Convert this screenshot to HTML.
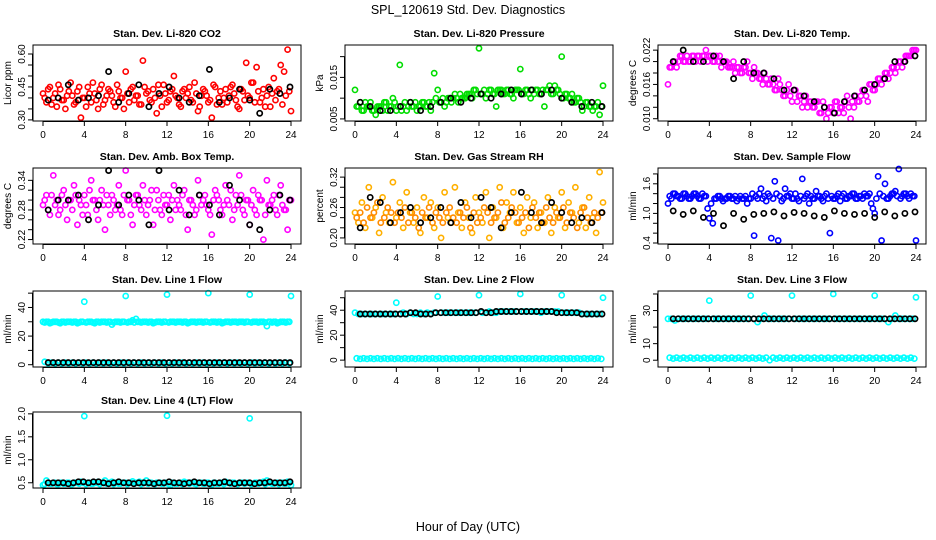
<!DOCTYPE html>
<html><head><meta charset="utf-8"><style>
html,body{margin:0;padding:0;background:#fff;}
svg{display:block;font-family:"Liberation Sans",sans-serif;}
</style></head><body>
<svg id="chart" width="936" height="540" viewBox="0 0 936 540" xmlns="http://www.w3.org/2000/svg">
<text x="468" y="14" text-anchor="middle" font-size="12.5">SPL_120619  Std. Dev. Diagnostics</text>
<text x="468" y="531" text-anchor="middle" font-size="12.5">Hour of Day (UTC)</text>
</svg>
<script>
// ---- data ----
const co2Red=[0.42,0.38,0.45,0.40,0.36,0.44,0.39,0.41,0.47,0.37,0.43,0.31,0.40,0.45,0.38,0.42,0.35,0.46,0.39,0.44,0.41,0.36,0.43,0.40,0.52,0.38,0.45,0.41,0.37,0.57,0.42,0.39,0.44,0.33,0.41,0.46,0.38,0.43,0.50,0.40,0.36,0.44,0.42,0.39,0.47,0.34,0.41,0.43,0.38,0.31,0.45,0.40,0.37,0.44,0.41,0.46,0.39,0.35,0.43,0.56,0.40,0.47,0.54,0.38,0.44,0.41,0.36,0.49,0.43,0.55,0.52,0.62,0.34];
const co2RedB=[0.40,0.44,0.37,0.42,0.46,0.39,0.35,0.43,0.41,0.38,0.45,0.40,0.36,0.42,0.47,0.39,0.44,0.37,0.41,0.43,0.38,0.46,0.40,0.35,0.42,0.44,0.39,0.41,0.37,0.45,0.43,0.38,0.40,0.46,0.36,0.42,0.39,0.44,0.41,0.37,0.43,0.40,0.45,0.38,0.42,0.36,0.44,0.41,0.39,0.46,0.37,0.43,0.40,0.38,0.45,0.42,0.36,0.44,0.39,0.41,0.47,0.38,0.43,0.40,0.36,0.45,0.42,0.39,0.44,0.37,0.41,0.43];
const co2Black=[0.39,0.40,0.46,0.39,0.40,0.41,0.52,0.38,0.42,0.46,0.36,0.42,0.45,0.40,0.38,0.41,0.53,0.38,0.40,0.44,0.39,0.33,0.44,0.42,0.45];
const presGreen=[0.012,0.008,0.007,0.009,0.008,0.007,0.006,0.008,0.007,0.009,0.008,0.010,0.007,0.018,0.008,0.007,0.009,0.008,0.007,0.008,0.009,0.008,0.007,0.016,0.012,0.009,0.008,0.010,0.009,0.011,0.009,0.010,0.010,0.011,0.010,0.012,0.022,0.011,0.010,0.012,0.011,0.008,0.012,0.011,0.012,0.011,0.010,0.012,0.017,0.011,0.012,0.010,0.011,0.012,0.011,0.008,0.012,0.011,0.013,0.012,0.020,0.011,0.010,0.011,0.009,0.010,0.007,0.009,0.008,0.007,0.008,0.006,0.013];
const presGreenB=[0.008,0.009,0.007,0.008,0.009,0.007,0.008,0.008,0.009,0.007,0.008,0.009,0.008,0.007,0.009,0.008,0.008,0.009,0.008,0.009,0.008,0.009,0.009,0.010,0.009,0.010,0.009,0.010,0.010,0.010,0.011,0.010,0.011,0.011,0.012,0.011,0.011,0.012,0.011,0.012,0.011,0.012,0.012,0.011,0.012,0.011,0.012,0.012,0.011,0.012,0.011,0.012,0.012,0.011,0.012,0.012,0.013,0.011,0.012,0.011,0.010,0.011,0.010,0.009,0.010,0.009,0.008,0.009,0.008,0.008,0.009,0.008];
const presBlack=[0.009,0.008,0.007,0.007,0.008,0.009,0.007,0.008,0.009,0.010,0.009,0.010,0.011,0.010,0.011,0.012,0.011,0.012,0.011,0.012,0.010,0.009,0.008,0.009,0.008];
const tempMag=[0.016,0.019,0.020,0.020,0.021,0.020,0.020,0.021,0.020,0.021,0.021,0.022,0.021,0.020,0.021,0.021,0.020,0.020,0.019,0.020,0.019,0.018,0.019,0.020,0.018,0.019,0.018,0.017,0.018,0.016,0.017,0.015,0.017,0.015,0.014,0.016,0.013,0.015,0.014,0.012,0.014,0.013,0.012,0.013,0.011,0.013,0.010,0.012,0.011,0.013,0.012,0.011,0.014,0.010,0.012,0.013,0.014,0.015,0.013,0.016,0.015,0.017,0.016,0.018,0.017,0.019,0.018,0.020,0.019,0.021,0.021,0.022,0.022];
const tempMagB=[0.019,0.020,0.019,0.021,0.020,0.021,0.020,0.021,0.021,0.020,0.021,0.020,0.021,0.020,0.020,0.019,0.020,0.019,0.019,0.018,0.019,0.018,0.019,0.018,0.017,0.018,0.017,0.016,0.017,0.016,0.016,0.015,0.016,0.014,0.015,0.014,0.015,0.013,0.014,0.013,0.012,0.013,0.012,0.013,0.011,0.012,0.011,0.012,0.013,0.011,0.012,0.013,0.012,0.013,0.014,0.013,0.015,0.014,0.016,0.015,0.016,0.017,0.017,0.018,0.018,0.019,0.019,0.020,0.020,0.021,0.021,0.022];
const tempBlack=[0.020,0.022,0.020,0.020,0.021,0.020,0.017,0.020,0.018,0.018,0.017,0.015,0.015,0.014,0.013,0.012,0.011,0.013,0.014,0.015,0.016,0.017,0.020,0.020,0.021];
const ambMag=[0.29,0.31,0.27,0.35,0.30,0.28,0.32,0.26,0.30,0.33,0.25,0.29,0.31,0.27,0.34,0.30,0.26,0.32,0.24,0.29,0.31,0.28,0.33,0.27,0.36,0.30,0.25,0.31,0.29,0.33,0.27,0.30,0.25,0.32,0.28,0.31,0.29,0.26,0.33,0.30,0.28,0.32,0.24,0.30,0.27,0.34,0.29,0.31,0.28,0.23,0.32,0.30,0.27,0.33,0.29,0.26,0.31,0.35,0.28,0.30,0.25,0.32,0.27,0.30,0.22,0.34,0.29,0.31,0.27,0.33,0.28,0.24,0.30];
const ambMagB=[0.30,0.28,0.31,0.29,0.27,0.31,0.29,0.30,0.28,0.31,0.30,0.27,0.29,0.32,0.30,0.28,0.30,0.29,0.31,0.27,0.30,0.29,0.28,0.31,0.30,0.27,0.29,0.31,0.28,0.30,0.29,0.32,0.28,0.30,0.27,0.29,0.31,0.30,0.28,0.29,0.31,0.27,0.30,0.29,0.28,0.31,0.30,0.29,0.27,0.30,0.31,0.28,0.29,0.30,0.32,0.28,0.29,0.31,0.27,0.30,0.29,0.28,0.31,0.30,0.27,0.29,0.30,0.28,0.31,0.29,0.28,0.30];
const ambBlack=[0.28,0.30,0.30,0.31,0.26,0.29,0.36,0.29,0.31,0.30,0.25,0.36,0.28,0.32,0.27,0.31,0.29,0.27,0.33,0.30,0.25,0.24,0.28,0.31,0.30];
const rhOrange=[0.25,0.23,0.27,0.22,0.30,0.24,0.26,0.21,0.28,0.25,0.23,0.31,0.24,0.27,0.22,0.29,0.25,0.23,0.26,0.21,0.28,0.24,0.27,0.22,0.26,0.20,0.29,0.24,0.23,0.30,0.25,0.22,0.27,0.24,0.21,0.28,0.25,0.23,0.29,0.20,0.26,0.24,0.30,0.22,0.27,0.25,0.29,0.23,0.26,0.21,0.28,0.24,0.27,0.22,0.25,0.23,0.28,0.21,0.26,0.24,0.29,0.22,0.27,0.25,0.30,0.23,0.26,0.22,0.28,0.24,0.21,0.33,0.27];
const rhOrangeB=[0.24,0.25,0.23,0.26,0.24,0.25,0.27,0.23,0.24,0.26,0.25,0.23,0.25,0.24,0.26,0.23,0.25,0.24,0.22,0.25,0.24,0.26,0.23,0.25,0.24,0.23,0.25,0.26,0.24,0.23,0.25,0.24,0.26,0.22,0.25,0.23,0.24,0.26,0.25,0.23,0.24,0.25,0.27,0.23,0.24,0.26,0.25,0.23,0.24,0.25,0.22,0.26,0.24,0.25,0.23,0.26,0.24,0.23,0.25,0.24,0.26,0.23,0.25,0.24,0.22,0.25,0.26,0.24,0.23,0.25,0.24,0.25];
const rhBlack=[0.22,0.28,0.27,0.23,0.25,0.26,0.23,0.24,0.26,0.23,0.27,0.24,0.28,0.26,0.22,0.25,0.29,0.25,0.23,0.27,0.25,0.23,0.24,0.23,0.25];
const flowBlue=[1.2,1.3,1.4,1.35,1.3,1.4,1.3,1.35,1.4,1.3,1.4,1.35,0.9,0.8,1.3,1.35,1.25,1.3,1.35,1.3,1.25,1.35,1.3,1.2,1.3,0.55,1.3,1.5,1.35,1.4,0.5,1.65,0.45,1.25,1.5,1.35,1.3,1.4,1.25,1.7,1.35,1.2,1.3,1.45,1.35,1.25,1.4,0.6,1.3,1.35,1.25,1.4,1.3,1.35,1.4,1.3,1.35,1.4,1.35,1.2,1.0,1.75,0.45,1.6,1.3,1.4,1.45,1.9,1.35,1.4,1.3,1.35,0.45];
const flowBlueB=[1.35,1.4,1.35,1.3,1.4,1.35,1.3,1.4,1.35,1.3,1.35,1.1,1.2,1.3,1.35,1.3,1.3,1.35,1.3,1.35,1.3,1.3,1.35,1.3,1.4,1.35,1.4,1.3,1.25,1.35,1.3,1.4,1.35,1.3,1.35,1.4,1.3,1.3,1.35,1.3,1.4,1.35,1.3,1.35,1.3,1.35,1.3,1.35,1.3,1.4,1.35,1.3,1.35,1.4,1.3,1.35,1.3,1.35,1.4,1.1,1.3,1.4,1.35,1.3,1.35,1.4,1.35,1.3,1.4,1.35,1.4,1.35];
const flowBlack=[1.05,0.98,1.05,0.92,1.0,0.75,1.0,0.88,0.98,1.0,1.03,0.95,1.02,1.0,0.95,0.92,1.05,1.0,0.98,1.0,0.92,1.03,0.95,1.0,1.03];
const line1Cyan=[30,30,29,30,30,29,30,30,30,30,29,30,44,30,30,29,30,30,30,30,28,30,30,30,48,30,31,32,30,30,30,30,29,30,30,30,49,30,30,30,30,30,29,30,30,30,30,30,50,30,30,30,29,30,30,30,30,30,30,30,49,30,30,30,30,27,30,30,29,30,30,30,48];
const line1CyanB=[29.5,30,29.5,30,29.5,30,29.5,30,29.5,30,29.5,30,29.5,30,29.5,30,29.5,30,29.5,30,29.5,30,29.5,30,29.5,30,29.5,30,29.5,30,29.5,30,29.5,30,29.5,30,29.5,30,29.5,30,29.5,30,29.5,30,29.5,30,29.5,30,29.5,30,29.5,30,29.5,30,29.5,30,29.5,30,29.5,30,29.5,30,29.5,30,29.5,30,29.5,30,29.5,30,29.5,30];
const line1CyanLow=[2,1,1.5,1,1.5,1,1.5,1,1.5,1,1.5,1,1.5,1,1.5,1,1.5,1,1.5,1,1.5,1,1.5,1,1.5,1,1.5,1,1.5,1,1.5,1,1.5,1,1.5,1,1.5,1,1.5,1,1.5,1,1.5,1,1.5,1,1.5,1,1.5,1,1.5,1,1.5,1,1.5,1,1.5,1,1.5,1,1.5,1,1.5,1,1.5,1,0,1,1.5,1,1.5,1];
const line1Black=[1.5,1.5,1.5,1.5,1.5,1.5,1.5,1.5,1.5,1.5,1.5,1.5,1.5,1.5,1.5,1.5,1.5,1.5,1.5,1.5,1.5,1.5,1.5,1.5,1.5,1.5,1.5,1.5,1.5,1.5,1.5,1.5,1.5,1.5,1.5,1.5,1.5,1.5,1.5,1.5,1.5,1.5,1.5,1.5,1.5,1.5,1.5,1.5,1.5];
const line2Cyan=[38,37,37,37,37,37,37,37,37,37,37,37,46,37,38,37,38,37,37,38,37,38,37,38,51,38,38,38,38,38,38,38,38,38,38,38,52,38,38,39,38,38,39,39,39,39,39,39,53,39,39,39,39,39,38,39,39,39,39,39,52,38,38,38,38,38,37,37,37,37,37,37,50];
const line2CyanLow=[1.5,1,1.5,1,1.5,1,1.5,1,1.5,1,1.5,1,1.5,1,1.5,1,1.5,1,1.5,1,1.5,1,1.5,1,1.5,1,1.5,1,1.5,1,1.5,1,1.5,1,1.5,1,1.5,1,1.5,1,1.5,1,1.5,1,1.5,1,1.5,1,1.5,1,1.5,1,1.5,1,1.5,1,1.5,1,1.5,1,1.5,1,1.5,1,1.5,1,1.5,1,1.5,1,1.5,1];
const line2Black=[37,37,37,37,37,37,37,37,37,37,38,38,37,37,37,38,38,38,38,38,38,38,38,38,39,38,38,39,39,39,39,39,39,39,39,39,39,39,39,38,38,38,38,38,37,37,37,37,37];
const line3Cyan=[25,25,24,25,25,25,25,25,25,25,25,25,36,25,25,25,25,25,25,25,25,25,25,25,39,25,23,25,27,25,25,25,25,25,25,25,39,25,25,25,25,25,25,25,25,25,25,25,40,25,25,25,25,25,25,25,25,25,25,25,39,25,25,25,23,25,27,25,25,25,25,25,38];
const line3CyanLow=[1.5,1,1.5,1,1.5,1,1.5,1,1.5,1,1.5,1,1.5,1,1.5,1,1.5,1,1.5,1,1.5,1,1.5,1,1.5,1,1.5,1,1.5,0,1.5,1,1.5,1,1.5,1,1.5,1,1.5,1,1.5,1,1.5,1,1.5,1,1.5,1,1.5,1,1.5,1,1.5,1,1.5,1,1.5,1,1.5,1,1.5,1,1.5,1,1.5,1,1.5,1,1.5,1,1.5,1];
const line3Black=[25,25,25,25,25,25,25,25,25,25,25,25,25,25,25,25,25,25,25,25,25,25,25,25,25,25,25,25,25,25,25,25,25,25,25,25,25,25,25,25,25,25,25,25,25,25,25,25,25];
const line4Cyan=[0.45,0.55,0.48,0.5,0.47,0.5,0.48,0.5,0.47,0.5,0.5,0.52,1.95,0.5,0.48,0.5,0.52,0.5,0.55,0.5,0.52,0.5,0.48,0.5,0.5,0.5,0.53,0.5,0.52,0.5,0.55,0.5,0.48,0.5,0.5,0.48,1.96,0.45,0.5,0.48,0.5,0.52,0.5,0.5,0.48,0.5,0.5,0.48,0.5,0.46,0.5,0.48,0.5,0.52,0.5,0.5,0.48,0.5,0.5,0.5,1.9,0.48,0.5,0.5,0.52,0.55,0.5,0.48,0.5,0.5,0.48,0.52,0.45];
const line4CyanB=[0.47,0.5,0.48,0.5,0.47,0.5,0.48,0.5,0.47,0.5,0.48,0.5,0.47,0.5,0.48,0.5,0.47,0.5,0.48,0.5,0.47,0.5,0.48,0.5,0.47,0.5,0.48,0.5,0.47,0.5,0.48,0.5,0.47,0.5,0.48,0.5,0.47,0.5,0.48,0.5,0.47,0.5,0.48,0.5,0.47,0.5,0.48,0.5,0.47,0.5,0.48,0.5,0.47,0.5,0.48,0.5,0.47,0.5,0.48,0.5,0.47,0.5,0.48,0.5,0.47,0.5,0.48,0.5,0.47,0.5,0.48,0.5];
const line4Black=[0.5,0.5,0.5,0.5,0.48,0.5,0.52,0.52,0.5,0.52,0.52,0.5,0.48,0.5,0.52,0.5,0.5,0.48,0.5,0.5,0.5,0.48,0.5,0.5,0.52,0.5,0.5,0.48,0.5,0.52,0.5,0.5,0.48,0.5,0.5,0.52,0.5,0.48,0.5,0.5,0.5,0.48,0.5,0.5,0.52,0.5,0.5,0.5,0.52];
const xTicks=[0,4,8,12,16,20,24];

const NS="http://www.w3.org/2000/svg";
const svg=document.getElementById('chart');
function mk(tag,attrs,parent){const e=document.createElementNS(NS,tag);for(const k in attrs)e.setAttribute(k,attrs[k]);(parent||svg).appendChild(e);return e;}

const colX0=[43,355,668];
const rowTop=[45,168,291,412];
const H=76, XW=248;

// series kinds: 0 = main (0..24), 2 = offset main, 1 = black/hourly (0.5..23.9)
const panels=[
 {c:0,r:0,name:'co2',title:'Stan. Dev. Li-820 CO2',yl:'Licor ppm',lim:[0.295,0.641],ticks:[0.30,0.35,0.40,0.45,0.50,0.55,0.60],labs:['0.30','0.45','0.60'],series:[[co2Red,'#ff0000',0],[co2RedB,'#ff0000',2],[co2Black,'#000',1]]},
 {c:1,r:0,name:'pressure',title:'Stan. Dev. Li-820 Pressure',yl:'kPa',lim:[0.0045,0.0228],ticks:[0.005,0.010,0.015,0.020],labs:['0.005','0.015'],series:[[presGreen,'#00dd00',0],[presGreenB,'#00dd00',2],[presBlack,'#000',1]]},
 {c:2,r:0,name:'li820-temp',title:'Stan. Dev. Li-820 Temp.',yl:'degrees C',lim:[0.0096,0.0229],ticks:[0.010,0.012,0.014,0.016,0.018,0.020,0.022],labs:['0.010','0.016','0.022'],series:[[tempMag,'#ff00ff',0],[tempMagB,'#ff00ff',2],[tempBlack,'#000',1]]},
 {c:0,r:1,name:'amb-box-temp',title:'Stan. Dev. Amb. Box Temp.',yl:'degrees C',lim:[0.211,0.365],ticks:[0.22,0.24,0.26,0.28,0.30,0.32,0.34],labs:['0.22','0.28','0.34'],series:[[ambMag,'#ff00ff',0],[ambMagB,'#ff00ff',2],[ambBlack,'#000',1]]},
 {c:1,r:1,name:'gas-stream-rh',title:'Stan. Dev. Gas Stream RH',yl:'percent',lim:[0.188,0.338],ticks:[0.20,0.22,0.24,0.26,0.28,0.30,0.32],labs:['0.20','0.26','0.32'],series:[[rhOrange,'#ffb000',0],[rhOrangeB,'#ff8c00',2],[rhBlack,'#000',1]]},
 {c:2,r:1,name:'sample-flow',title:'Stan. Dev. Sample Flow',yl:'ml/min',lim:[0.38,1.92],ticks:[0.4,0.6,0.8,1.0,1.2,1.4,1.6,1.8],labs:['0.4','1.0','1.6'],series:[[flowBlue,'#0000ff',0],[flowBlueB,'#0000ff',2],[flowBlack,'#000',1]]},
 {c:0,r:2,name:'line1-flow',title:'Stan. Dev. Line 1 Flow',yl:'ml/min',lim:[-1.6,51.5],ticks:[0,10,20,30,40,50],labs:['0','20','40'],series:[[line1CyanLow,'#00ffff',2],[line1Cyan,'#00ffff',0],[line1CyanB,'#00ffff',2],[line1Black,'#000',1]]},
 {c:1,r:2,name:'line2-flow',title:'Stan. Dev. Line 2 Flow',yl:'ml/min',lim:[-5.5,55.4],ticks:[0,10,20,30,40,50],labs:['0','20','40'],series:[[line2CyanLow,'#00ffff',2],[line2Cyan,'#00ffff',0],[line2Black,'#000',1]]},
 {c:2,r:2,name:'line3-flow',title:'Stan. Dev. Line 3 Flow',yl:'ml/min',lim:[-4.1,41.8],ticks:[0,10,20,30,40],labs:['0','10','30'],series:[[line3CyanLow,'#00ffff',2],[line3Cyan,'#00ffff',0],[line3Black,'#000',1]]},
 {c:0,r:3,name:'line4-flow',title:'Stan. Dev. Line 4 (LT) Flow',yl:'ml/min',lim:[0.386,2.04],ticks:[0.5,1.0,1.5,2.0],labs:['0.5','1.0','1.5','2.0'],series:[[line4Cyan,'#00ffff',0],[line4CyanB,'#00ffff',2],[line4Black,'#000',1]]}
];

panels.forEach(p=>{
  const x0=colX0[p.c], top=rowTop[p.r], bot=top+H;
  const L=x0-10, R=x0+XW+10;
  const xs=h=>x0+h*XW/24;
  const ys=v=>bot-(v-p.lim[0])/(p.lim[1]-p.lim[0])*H;
  const g=mk('g',{});
  
  
  const t=mk('text',{x:(L+R)/2,y:top-8,'text-anchor':'middle','font-size':'10.5','font-weight':'bold'},g);
  t.textContent=p.title;
  
  
  p.series.forEach(s=>{
    const arr=s[0], col=s[1], kind=s[2];
    const sg=mk('g',{fill:'none',stroke:col,'stroke-width':kind===1?1.7:1.6},g);
    
    
    arr.forEach((v,i)=>{
      let h;
      if(kind===1) h=0.5+i*23.4/(arr.length-1);
      else if(kind===2) h=(i+0.5)*24/arr.length;
      else h=i*24/(arr.length-1);
      const c=mk('circle',{cx:xs(h).toFixed(1),cy:ys(v).toFixed(1),r:2.6},sg);
      
      
    });
  });
  const box=mk('rect',{x:L,y:top,width:R-L,height:H,fill:'none',stroke:'#000','stroke-width':1},g);
  
  
  mk('line',{x1:xs(0),x2:xs(24),y1:bot+0.5,y2:bot+0.5,stroke:'#000'},g);
  xTicks.forEach(h=>{
    mk('line',{x1:xs(h),x2:xs(h),y1:bot,y2:bot+5,stroke:'#000'},g);
    const tl=mk('text',{x:xs(h),y:bot+17,'text-anchor':'middle','font-size':'10'},g);
    tl.textContent=h;
    
    
  });
  mk('line',{x1:L-0.5,x2:L-0.5,y1:ys(p.ticks[0]),y2:ys(p.ticks[p.ticks.length-1]),stroke:'#000'},g);
  p.ticks.forEach(v=>mk('line',{x1:L-5,x2:L,y1:ys(v),y2:ys(v),stroke:'#000'},g));
  p.labs.forEach(s=>{
    const yy=ys(parseFloat(s));
    const tl=mk('text',{x:0,y:0,'text-anchor':'middle','font-size':'10',transform:`translate(${L-8},${yy}) rotate(-90)`},g);
    tl.textContent=s;
    
    
  });
  const yt=mk('text',{x:0,y:0,'text-anchor':'middle','font-size':'10',transform:`translate(${L-22},${top+H/2}) rotate(-90)`},g);
  yt.textContent=p.yl;
  
  
});
</script>
</body></html>
